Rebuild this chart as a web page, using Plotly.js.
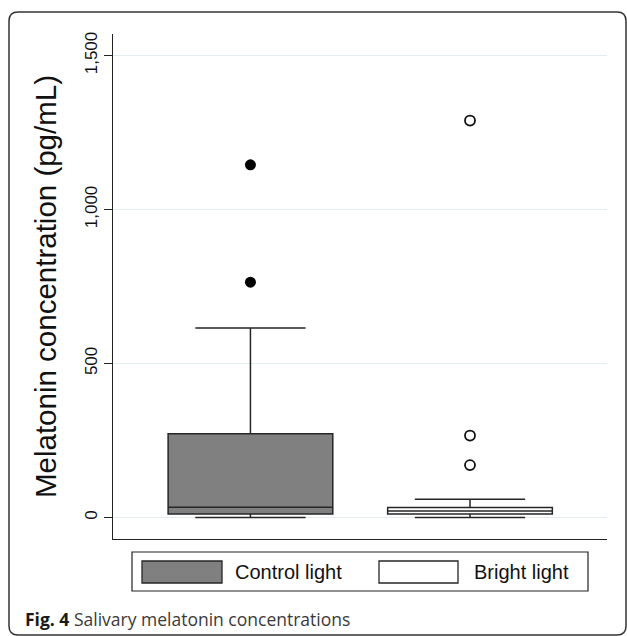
<!DOCTYPE html>
<html>
<head>
<meta charset="utf-8">
<script src="https://cdn.plot.ly/plotly-3.0.1.min.js"></script>
<style>html,body{margin:0;padding:0;background:#fff;}#chart{width:627px;height:636px;}</style>
</head>
<body>
<div id="chart"></div>
<script>
// ---- data ----
const categories = ["Control light", "Bright light"];
const q1 = [11, 11];
const medians = [33, 21];
const q3 = [272, 32];
const lowerFence = [0, 0];
const upperFence = [615, 59];
const controlOutliers = [764, 1145];
const brightOutliers = [170, 266, 1289];
const yTicks = [0, 500, 1000, 1500];
const yTickLabels = ["0", "500", "1,000", "1,500"];
const yTitle = "Melatonin concentration (pg/mL)";
const captionBold = "Fig. 4";
const captionText = "Salivary melatonin concentrations";

// ---- styling ----
const fills = ["#808080", "#ffffff"];
const W = 627, H = 636;
const M = {l: 113, r: 20, t: 34, b: 97};
const PW = W - M.l - M.r, PH = H - M.t - M.b;
const px = x => (x - M.l) / PW;          // pixel -> paper x
const py = y => (H - M.b - y) / PH;      // pixel -> paper y

const traces = categories.map((c, i) => ({
  type: "box",
  name: c,
  x: [c],
  q1: [q1[i]], median: [medians[i]], q3: [q3[i]],
  lowerfence: [lowerFence[i]], upperfence: [upperFence[i]],
  boxpoints: false,
  width: 0.75,
  whiskerwidth: 0.67,
  fillcolor: fills[i],
  line: {color: "#262626", width: 1.5},
  showlegend: false,
  hoverinfo: "skip"
}));

traces.push({
  type: "scatter", mode: "markers",
  x: controlOutliers.map(() => categories[0]), y: controlOutliers,
  marker: {symbol: "circle", size: 11, color: "#000"},
  showlegend: false, hoverinfo: "skip"
});
traces.push({
  type: "scatter", mode: "markers",
  x: brightOutliers.map(() => categories[1]), y: brightOutliers,
  marker: {symbol: "circle-open", size: 10, color: "#111", line: {width: 1.8}},
  showlegend: false, hoverinfo: "skip"
});

// frame (rounded rectangle) in paper coordinates
function roundRect(x0, y0, x1, y1, r) {
  const X = v => px(v), Y = v => py(v);
  return `M ${X(x0 + r)} ${Y(y0)} L ${X(x1 - r)} ${Y(y0)} Q ${X(x1)} ${Y(y0)} ${X(x1)} ${Y(y0 + r)} ` +
         `L ${X(x1)} ${Y(y1 - r)} Q ${X(x1)} ${Y(y1)} ${X(x1 - r)} ${Y(y1)} ` +
         `L ${X(x0 + r)} ${Y(y1)} Q ${X(x0)} ${Y(y1)} ${X(x0)} ${Y(y1 - r)} ` +
         `L ${X(x0)} ${Y(y0 + r)} Q ${X(x0)} ${Y(y0)} ${X(x0 + r)} ${Y(y0)} Z`;
}

const shapes = [
  {type: "path", xref: "paper", yref: "paper", path: roundRect(9, 12, 626, 635, 9),
   line: {color: "#333", width: 1.5}, fillcolor: "rgba(0,0,0,0)", layer: "below"},
  // legend frame
  {type: "rect", xref: "paper", yref: "paper", x0: px(132), x1: px(588), y0: py(552), y1: py(591),
   line: {color: "#222", width: 1.2}, fillcolor: "#fff"},
  // legend swatches
  {type: "rect", xref: "paper", yref: "paper", x0: px(142), x1: px(222), y0: py(561), y1: py(583),
   line: {color: "#262626", width: 1.3}, fillcolor: fills[0]},
  {type: "rect", xref: "paper", yref: "paper", x0: px(379), x1: px(458), y0: py(561), y1: py(583),
   line: {color: "#262626", width: 1.3}, fillcolor: fills[1]}
];

const annotations = [
  {xref: "paper", yref: "paper", x: px(233), y: py(572), xanchor: "left", yanchor: "middle",
   text: categories[0], showarrow: false, font: {family: "Liberation Sans, Arial", size: 20, color: "#111"}},
  {xref: "paper", yref: "paper", x: px(472), y: py(572), xanchor: "left", yanchor: "middle",
   text: categories[1], showarrow: false, font: {family: "Liberation Sans, Arial", size: 20, color: "#111"}},
  {xref: "paper", yref: "paper", x: px(23), y: py(619), xanchor: "left", yanchor: "middle",
   text: `<b><span style="color:#1a1a1a">${captionBold}</span></b> ${captionText}`, showarrow: false,
   font: {family: "Open Sans, Noto Sans", size: 17.5, color: "#3a3a3a"}}
];

const layout = {
  width: W, height: H,
  margin: M,
  paper_bgcolor: "#fff", plot_bgcolor: "#fff",
  font: {family: "Liberation Sans, Arial", color: "#111"},
  boxmode: "overlay",
  showlegend: false,
  xaxis: {
    type: "category", categoryorder: "array", categoryarray: categories,
    range: [-0.626, 1.624], showticklabels: false, ticks: "",
    showgrid: false, zeroline: false, showline: true, linecolor: "#222", linewidth: 1.2,
    fixedrange: true
  },
  yaxis: {
    range: [-70, 1570], tickvals: yTicks, ticktext: yTickLabels,
    tickangle: -90, ticks: "outside", ticklen: 8, tickcolor: "#222", tickwidth: 1.2,
    tickfont: {size: 17, color: "#111"},
    showgrid: true, gridcolor: "#e4ecef", gridwidth: 1,
    zeroline: false, showline: true, linecolor: "#222", linewidth: 1.2,
    title: {text: yTitle, font: {size: 29.5, color: "#111"}, standoff: 16},
    automargin: false, fixedrange: true
  },
  shapes: shapes,
  annotations: annotations
};

Plotly.newPlot("chart", traces, layout, {displayModeBar: false, staticPlot: true});
</script>
</body>
</html>
